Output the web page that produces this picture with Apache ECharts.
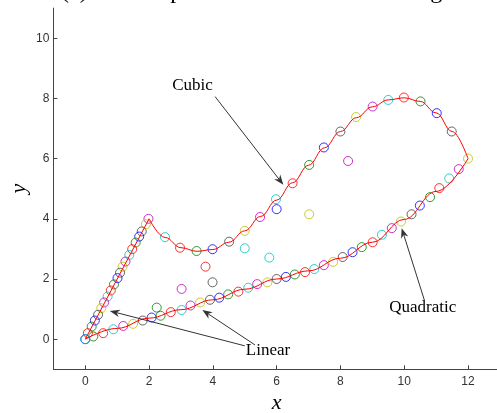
<!DOCTYPE html>
<html>
<head>
<meta charset="utf-8">
<script src="https://cdn.jsdelivr.net/npm/echarts@6/dist/echarts.min.js"></script>
<style>
html,body{margin:0;padding:0;background:#fff;}
#chart{width:497px;height:413px;}
</style>
</head>
<body>
<div id="chart"></div>
<script>
// Tick labels
const xTicks = [0, 2, 4, 6, 8, 10, 12];
const yTicks = [0, 2, 4, 6, 8, 10];

// Samples along the lower (quadratic) branch, from the origin to (12, 6)
const quadX = [0, 0.25, 0.56, 0.88, 1.19, 1.5, 1.8, 2.08, 2.36, 2.68, 3.02, 3.3, 3.6, 3.91, 4.2, 4.48, 4.8, 5.11, 5.39, 5.71, 6.0, 6.29, 6.57, 6.89, 7.18, 7.48, 7.77, 8.07, 8.38, 8.67, 9.01, 9.3, 9.61, 9.9, 10.23, 10.49, 10.81, 11.1, 11.41, 11.71, 12.0];
const quadY = [0, 0.09, 0.2, 0.33, 0.44, 0.51, 0.62, 0.72, 0.78, 0.9, 0.97, 1.12, 1.22, 1.31, 1.38, 1.49, 1.58, 1.71, 1.83, 1.89, 2.0, 2.07, 2.15, 2.23, 2.33, 2.46, 2.57, 2.73, 2.89, 3.06, 3.22, 3.47, 3.69, 3.91, 4.15, 4.44, 4.72, 5.02, 5.34, 5.65, 6.0];

// Samples along the upper (cubic) branch, from (12, 6) back to (2, 4)
const cubicX = [11.49, 11.02, 10.51, 9.99, 9.5, 9.01, 8.49, 8.0, 7.48, 7.02, 6.5, 5.98, 5.48, 5.0, 4.51, 3.99, 3.49, 2.97, 2.5, 1.98];
const cubicY = [6.9, 7.51, 7.9, 8.03, 7.95, 7.73, 7.38, 6.9, 6.37, 5.79, 5.18, 4.65, 4.06, 3.6, 3.24, 2.99, 2.93, 3.04, 3.39, 4.0];

// Samples along the straight (linear) branch, from (2, 4) down to the origin
const linX = [1.9, 1.77, 1.69, 1.58, 1.47, 1.38, 1.26, 1.17, 1.09, 1.01, 0.9, 0.8, 0.7, 0.59, 0.5, 0.4, 0.3, 0.2, 0.08, 0.0];
const linY = [3.82, 3.58, 3.41, 3.21, 2.99, 2.8, 2.58, 2.41, 2.21, 2.03, 1.82, 1.62, 1.42, 1.22, 1.03, 0.81, 0.62, 0.42, 0.2, 0.0];

// Off-curve samples and their colour keys
const outX = [2.24, 3.02, 3.77, 3.99, 5.0, 5.77, 6.0, 7.02, 8.24];
const outY = [1.05, 1.67, 2.41, 1.89, 3.02, 2.71, 4.32, 4.15, 5.92];
const outC = ['g', 'm', 'r', 'k', 'c', 'c', 'b', 'y', 'm'];

// Fitted curves
const fitLinX = [0, 2];
const fitLinY = [0, 4];
const fitCubX = [2, 2.5, 3, 3.5, 4, 4.5, 5, 5.5, 6, 6.5, 7, 7.5, 8, 8.5, 9, 9.5, 10, 10.5, 11, 11.5, 12];
const fitCubY = [4, 3.38, 3.04, 2.92, 2.98, 3.22, 3.6, 4.08, 4.62, 5.2, 5.78, 6.36, 6.9, 7.36, 7.72, 7.95, 8.02, 7.9, 7.52, 6.9, 6.0];
const fitQuadX = [0, 1, 2, 3, 4, 5, 6, 7, 8, 9, 10, 11, 12];
const fitQuadY = [0, 0.36, 0.7, 0.98, 1.31, 1.66, 2.0, 2.27, 2.69, 3.22, 3.98, 4.91, 6.0];

// Marker colour cycle
const palette = { b: '#0000ff', g: '#008000', r: '#ff0000', c: '#00bfbf', m: '#bf00bf', y: '#bfbf00', k: '#404040' };
const cycle = ['b', 'g', 'r', 'c', 'm', 'y', 'k'];

const zip = (xs, ys) => xs.map((x, i) => [x, ys[i]]);

// Walk the closed path: lower branch, then upper branch, then the straight edge
const pathPts = zip(quadX, quadY).concat(zip(cubicX, cubicY), zip(linX, linY));
const ringMarks = pathPts.map((p, i) => ({
  value: p,
  itemStyle: { color: 'rgba(0,0,0,0)', borderColor: palette[cycle[i % 7]], borderWidth: 1 }
}));
const strayMarks = zip(outX, outY).map((p, i) => ({
  value: p,
  itemStyle: { color: 'rgba(0,0,0,0)', borderColor: palette[outC[i]], borderWidth: 1 }
}));

const axisCol = '#444';
const fitLine = (xs, ys, smooth) => ({
  type: 'line', data: zip(xs, ys), showSymbol: false, symbol: 'none',
  smooth: smooth, smoothMonotone: 'x', z: 3, silent: true,
  lineStyle: { color: '#ff0000', width: 1 }
});

const chart = echarts.init(document.getElementById('chart'));
chart.setOption({
  animation: false,
  backgroundColor: '#fff',
  grid: { left: 53.4, top: 8.1, width: 446.5, height: 361.2, containLabel: false, outerBoundsMode: 'none' },
  xAxis: {
    type: 'value', min: -1, max: 13,
    name: 'x', nameLocation: 'middle', nameGap: 22,
    nameTextStyle: { fontFamily: 'Liberation Serif', fontStyle: 'italic', fontSize: 22, color: '#000' },
    axisLine: { show: true, onZero: false, lineStyle: { color: axisCol, width: 1 } },
    axisTick: { show: true, inside: true, length: 4, customValues: xTicks, lineStyle: { color: axisCol } },
    axisLabel: { customValues: xTicks, margin: 6, fontFamily: 'Liberation Sans', fontSize: 12, color: '#333' },
    splitLine: { show: false }
  },
  yAxis: {
    type: 'value', min: -1, max: 11,
    name: 'y', nameLocation: 'middle', nameGap: 23, nameMoveOverlap: false,
    nameTextStyle: { fontFamily: 'Liberation Serif', fontStyle: 'italic', fontSize: 22, color: '#000' },
    axisLine: { show: true, onZero: false, lineStyle: { color: axisCol, width: 1 } },
    axisTick: { show: true, inside: true, length: 4, customValues: yTicks, lineStyle: { color: axisCol } },
    axisLabel: { customValues: yTicks, margin: 4, fontFamily: 'Liberation Sans', fontSize: 12, color: '#333' },
    splitLine: { show: false }
  },
  series: [
    {
      type: 'scatter', data: ringMarks, symbol: 'circle', symbolSize: 9, z: 2, silent: true
    },
    {
      type: 'scatter', data: strayMarks, symbol: 'circle', symbolSize: 9, z: 2, silent: true
    },
    fitLine(fitLinX, fitLinY, false),
    fitLine(fitCubX, fitCubY, 0.4),
    fitLine(fitQuadX, fitQuadY, 0.4)
  ]
});

// Labelled arrows, placed in data coordinates
const notes = [
  { text: 'Cubic', at: [3.36, 8.42], arrows: [[[4.07, 8.06], [6.21, 5.13]]] },
  { text: 'Quadratic', at: [10.58, 1.04], arrows: [[[10.64, 1.27], [9.92, 3.69]]] },
  { text: 'Linear', at: [5.73, -0.39], arrows: [[[5.0, -0.22], [0.77, 0.94]], [[5.32, -0.19], [3.67, 0.97]]] }
];

const px = p => chart.convertToPixel({ gridIndex: 0 }, p);
const arrowCol = '#333';
const graphics = [];

notes.forEach(n => {
  const c = px(n.at);
  graphics.push({
    type: 'text', x: c[0], y: c[1], z: 10,
    style: { text: n.text, fill: '#000', font: '17px "Liberation Serif"', align: 'center', verticalAlign: 'middle' }
  });
  n.arrows.forEach(a => {
    const s = px(a[0]), t = px(a[1]);
    const dx = t[0] - s[0], dy = t[1] - s[1];
    const len = Math.hypot(dx, dy);
    const ux = dx / len, uy = dy / len;
    const nx = -uy, ny = ux;
    const L = 10, W = 3.8, N = 3;
    graphics.push({
      type: 'line', z: 10,
      shape: { x1: s[0], y1: s[1], x2: t[0] - ux * (L - N), y2: t[1] - uy * (L - N) },
      style: { stroke: arrowCol, lineWidth: 1 }
    });
    graphics.push({
      type: 'polygon', z: 10,
      shape: { points: [
        [t[0], t[1]],
        [t[0] - ux * L + nx * W, t[1] - uy * L + ny * W],
        [t[0] - ux * (L - N), t[1] - uy * (L - N)],
        [t[0] - ux * L - nx * W, t[1] - uy * L - ny * W]
      ] },
      style: { fill: arrowCol }
    });
  });
});

// Heading along the top edge
graphics.push({
  type: 'text', x: 61, y: 4, z: 10,
  style: { text: '(c) Full shape and its three-curve fitting', fill: '#000', font: '24px "Liberation Serif"', align: 'left', verticalAlign: 'bottom' }
});

chart.setOption({ graphic: graphics });
</script>
</body>
</html>
